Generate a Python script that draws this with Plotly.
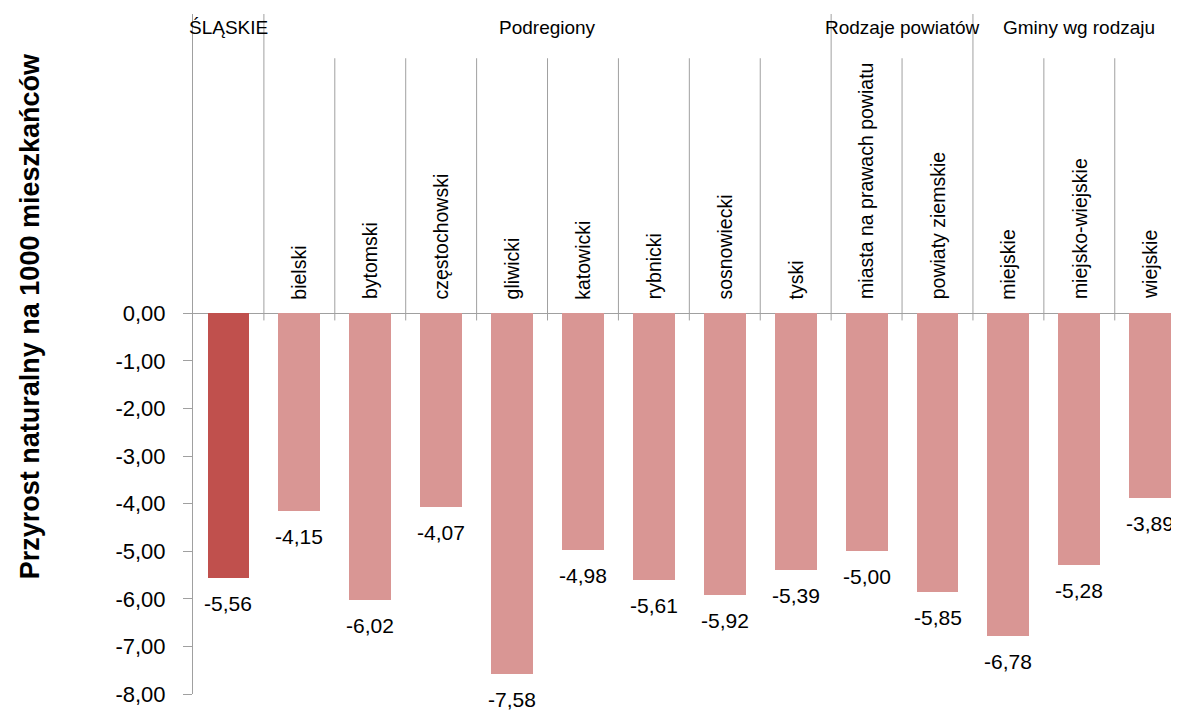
import plotly.graph_objects as go

# --- dane ---
categories = ["ŚLĄSKIE", "bielski", "bytomski", "częstochowski", "gliwicki", "katowicki",
              "rybnicki", "sosnowiecki", "tyski", "miasta na prawach powiatu",
              "powiaty ziemskie", "miejskie", "miejsko-wiejskie", "wiejskie"]
values = [-5.56, -4.15, -6.02, -4.07, -7.58, -4.98, -5.61, -5.92, -5.39,
          -5.00, -5.85, -6.78, -5.28, -3.89]
group_names = ["ŚLĄSKIE", "Podregiony", "Rodzaje powiatów", "Gminy wg rodzaju"]
group_sizes = [1, 8, 2, 3]
tick_vals = [0, -1, -2, -3, -4, -5, -6, -7, -8]
tick_text = ["0,00", "-1,00", "-2,00", "-3,00", "-4,00", "-5,00", "-6,00", "-7,00", "-8,00"]
y_title = "Przyrost naturalny na 1000 mieszkańców"

# --- styl ---
FONT = "Liberation Sans, Arial, sans-serif"
LINE = "#A0A0A0"
DARK = "#C0504D"
LIGHT = "#D99694"

def pl_num(v):
    # przecinek dziesiętny, zwykły minus
    return f"{v:.2f}".replace(".", ",")

colors = [DARK] + [LIGHT] * (len(values) - 1)

fig = go.Figure()
fig.add_trace(go.Bar(
    x=categories, y=values, width=0.59,
    marker=dict(color=colors, line=dict(width=0)),
    hoverinfo="skip",
))

# etykiety wartości pod słupkami
for c, v in zip(categories, values):
    fig.add_annotation(x=c, y=v, text=pl_num(v), showarrow=False,
                       xanchor="center", yanchor="top", yshift=-12,
                       font=dict(size=21, color="black", family=FONT))

# linie podziału i nazwy grup
shapes = []
start = 0
for gname, gsize in zip(group_names, group_sizes):
    end = start + gsize
    center = (start + end - 1) / 2
    fig.add_annotation(x=center, y=1, xref="x", yref="paper", text=gname,
                       showarrow=False, yanchor="top", yshift=-1,
                       font=dict(size=19, color="black", family=FONT))
    for i in range(start, end):
        if i > start:
            shapes.append(dict(type="line", xref="x", yref="y", x0=i - 0.5, x1=i - 0.5,
                               y0=-0.15, y1=5.36, line=dict(color=LINE, width=1)))
        if gsize > 1:
            fig.add_annotation(x=i, y=0, text=categories[i], showarrow=False,
                               textangle=-90, xanchor="center", yanchor="bottom", yshift=12,
                               font=dict(size=19.5, color="black", family=FONT))
    if start > 0:
        shapes.append(dict(type="line", xref="x", yref="y", x0=start - 0.5, x1=start - 0.5,
                           y0=-0.15, y1=6.29, line=dict(color=LINE, width=1)))
    start = end

# tytuł osi Y jako adnotacja (środek wyżej niż środek osi)
fig.add_annotation(x=-0.165, y=0.556, xref="paper", yref="paper", text=f"<b>{y_title}</b>",
                   showarrow=False, textangle=-90, xanchor="center", yanchor="middle",
                   font=dict(size=27, color="black", family=FONT))

# strona ma 8 px marginesu body -> figura mniejsza o 8 px, marginesy przesunięte
fig.update_layout(
    width=1171, height=708,
    margin=dict(l=185, r=0, t=6, b=22, pad=0),
    paper_bgcolor="white", plot_bgcolor="white",
    showlegend=False, bargap=0,
    shapes=shapes,
    font=dict(family=FONT, color="black"),
)
fig.update_xaxes(range=[-0.5, 13.406], showticklabels=False, showgrid=False,
                 zeroline=False, showline=False, ticks="", automargin=False)
fig.update_yaxes(range=[-8, 6.29], tickvals=tick_vals, ticktext=tick_text,
                 showgrid=False, showline=True, linecolor=LINE, linewidth=1,
                 ticks="outside", ticklen=9, tickcolor=LINE, tickwidth=1,
                 zeroline=True, zerolinecolor=LINE, zerolinewidth=1,
                 tickfont=dict(size=22, color="black", family=FONT),
                 ticklabelstandoff=13, automargin=False)

fig.write_html("out.html")
